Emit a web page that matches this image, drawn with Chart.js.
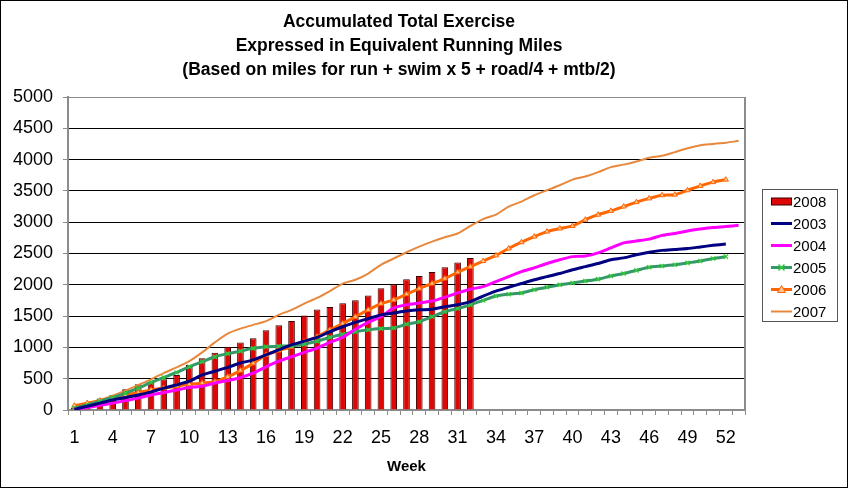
<!DOCTYPE html>
<html>
<head>
<meta charset="utf-8">
<script src="https://cdn.jsdelivr.net/npm/chart.js@4.4.1/dist/chart.umd.min.js"></script>
<style>
  html, body { margin: 0; padding: 0; background: #fff; }
  canvas { display: block; }
</style>
</head>
<body>
<canvas id="exerciseChart" width="848" height="488"></canvas>
<script>
// weeks of the year
const weeks = [1, 2, 3, 4, 5, 6, 7, 8, 9, 10, 11, 12, 13, 14, 15, 16, 17, 18, 19, 20,
  21, 22, 23, 24, 25, 26, 27, 28, 29, 30, 31, 32, 33, 34, 35, 36, 37, 38, 39, 40,
  41, 42, 43, 44, 45, 46, 47, 48, 49, 50, 51, 52, 53];

// accumulated equivalent running miles per year
const miles2008 = [40, 100, 185, 240, 330, 410, 450, 490, 560, 720,
  825, 915, 1010, 1080, 1145, 1275, 1355, 1420, 1510, 1605,
  1645, 1705, 1755, 1830, 1945, 2010, 2090, 2140, 2205, 2280,
  2355, 2430];
const miles2003 = [10, 60, 110, 160, 200, 240, 290, 350, 400, 460,
  560, 620, 680, 750, 800, 880, 960, 1040, 1100, 1160,
  1250, 1330, 1400, 1460, 1520, 1550, 1580, 1600, 1610, 1650,
  1680, 1730, 1820, 1900, 1960, 2020, 2080, 2130, 2180, 2240,
  2290, 2340, 2400, 2430, 2480, 2520, 2550, 2565, 2580, 2605,
  2630, 2650];
const miles2004 = [10, 40, 75, 110, 150, 190, 240, 280, 320, 360,
  380, 430, 470, 520, 590, 690, 780, 850, 920, 990,
  1080, 1160, 1290, 1400, 1490, 1630, 1680, 1710, 1740, 1800,
  1870, 1930, 1970, 2050, 2130, 2210, 2270, 2340, 2400, 2450,
  2460, 2510, 2590, 2670, 2700, 2730, 2790, 2820, 2860, 2890,
  2915, 2930, 2950];
const miles2005 = [30, 80, 140, 200, 270, 350, 440, 520, 600, 690,
  770, 850, 900, 940, 985, 1010, 1020, 1025, 1050, 1100,
  1160, 1210, 1250, 1280, 1300, 1310, 1370, 1410, 1490, 1570,
  1620, 1680, 1750, 1820, 1850, 1870, 1920, 1960, 2000, 2030,
  2060, 2090, 2140, 2180, 2230, 2280, 2300, 2320, 2350, 2380,
  2420, 2450];
const miles2006 = [70, 110, 150, 190, 240, 280, 320, 350, 380, 410,
  430, 450, 530, 630, 745, 880, 950, 1010, 1090, 1170,
  1280, 1380, 1490, 1600, 1700, 1760, 1850, 1940, 2020, 2100,
  2200, 2290, 2380, 2470, 2580, 2680, 2770, 2850, 2900, 2940,
  3040, 3120, 3180, 3250, 3320, 3380, 3430, 3440, 3510, 3580,
  3640, 3680];
const miles2007 = [50, 100, 160, 230, 310, 400, 490, 590, 680, 780,
  920, 1080, 1220, 1300, 1360, 1420, 1520, 1600, 1700, 1790,
  1900, 2020, 2080, 2180, 2320, 2420, 2520, 2610, 2690, 2760,
  2820, 2940, 3050, 3120, 3250, 3330, 3430, 3510, 3590, 3680,
  3730, 3800, 3880, 3920, 3970, 4030, 4060, 4120, 4180, 4230,
  4250, 4270, 4300];

const yTicks = [0, 500, 1000, 1500, 2000, 2500, 3000, 3500, 4000, 4500, 5000];

const titleLines = [
  'Accumulated Total Exercise',
  'Expressed in Equivalent Running Miles',
  '(Based on miles for run + swim x 5 + road/4 + mtb/2)'
];

Chart.defaults.font.family = "'Liberation Sans', Arial, sans-serif";
Chart.defaults.color = '#000';

function lineSet(label, data, color, width, extra) {
  return Object.assign({
    type: 'line',
    label: label,
    data: data,
    borderColor: color,
    backgroundColor: color,
    borderWidth: width,
    pointRadius: 0,
    tension: 0.25,
    fill: false,
    order: 1
  }, extra || {});
}

// title, legend and frame drawn by hand
const decorations = {
  id: 'decorations',
  afterDraw(chart) {
    const ctx = chart.ctx;
    const area = chart.chartArea;
    ctx.save();

    // plot right edge
    ctx.strokeStyle = '#8c8c8c';
    ctx.lineWidth = 2;
    ctx.beginPath();
    ctx.moveTo(area.right, area.top);
    ctx.lineTo(area.right, area.bottom);
    ctx.stroke();

    // title
    ctx.fillStyle = '#000';
    ctx.font = "bold 17.5px 'Liberation Sans', Arial, sans-serif";
    ctx.textAlign = 'center';
    ctx.textBaseline = 'middle';
    titleLines.forEach((t, i) => ctx.fillText(t, 399, 22 + i * 24));

    // legend
    ctx.strokeStyle = '#555';
    ctx.lineWidth = 1;
    ctx.strokeRect(762.5, 189.5, 75, 132);
    ctx.font = "15px 'Liberation Sans', Arial, sans-serif";
    ctx.textAlign = 'left';
    chart.data.datasets.forEach((ds, i) => {
      const y = 201.5 + i * 22;
      if (ds.type === 'bar') {
        ctx.fillStyle = ds.backgroundColor;
        ctx.fillRect(771, y - 3.5, 20, 7);
        ctx.strokeStyle = ds.borderColor;
        ctx.strokeRect(771.5, y - 3.5, 20, 7);
      } else {
        ctx.strokeStyle = ds.borderColor;
        ctx.lineWidth = ds.borderWidth;
        ctx.beginPath();
        ctx.moveTo(771, y);
        ctx.lineTo(792, y);
        ctx.stroke();
        if (ds.pointStyle === 'triangle') {
          ctx.fillStyle = ds.pointBackgroundColor;
          ctx.strokeStyle = ds.pointBorderColor;
          ctx.lineWidth = 1;
          ctx.beginPath();
          ctx.moveTo(781.5, y - 4);
          ctx.lineTo(785.5, y + 3);
          ctx.lineTo(777.5, y + 3);
          ctx.closePath();
          ctx.fill();
          ctx.stroke();
        } else if (ds.pointStyle === 'crossRot') {
          ctx.strokeStyle = ds.pointBorderColor;
          ctx.lineWidth = 1.5;
          ctx.beginPath();
          ctx.moveTo(778.5, y - 3);
          ctx.lineTo(784.5, y + 3);
          ctx.moveTo(784.5, y - 3);
          ctx.lineTo(778.5, y + 3);
          ctx.stroke();
        }
      }
      ctx.fillStyle = '#000';
      ctx.fillText(ds.label, 793, y + 1);
    });

    // outer frame
    ctx.strokeStyle = '#000';
    ctx.lineWidth = 1;
    ctx.strokeRect(0.5, 0.5, chart.width - 1, chart.height - 1);
    ctx.restore();
  }
};

const ctx = document.getElementById('exerciseChart').getContext('2d');
new Chart(ctx, {
  type: 'bar',
  data: {
    labels: weeks,
    datasets: [
      {
        type: 'bar',
        label: '2008',
        data: miles2008,
        backgroundColor: '#DD0806',
        borderColor: '#3a0000',
        borderWidth: 1,
        barPercentage: 0.52,
        categoryPercentage: 1,
        order: 2
      },
      lineSet('2003', miles2003, '#000080', 3),
      lineSet('2004', miles2004, '#FF00FF', 3),
      lineSet('2005', miles2005, '#339966', 3, {
        pointStyle: 'crossRot', pointRadius: 3, pointBorderWidth: 1.2,
        pointBorderColor: '#33CC33', pointBackgroundColor: '#33CC33'
      }),
      lineSet('2006', miles2006, '#FF6600', 3, {
        pointStyle: 'triangle', pointRadius: 3, pointBorderWidth: 1,
        pointBorderColor: '#FF6600', pointBackgroundColor: '#FFC494'
      }),
      lineSet('2007', miles2007, '#E8883C', 2)
    ]
  },
  options: {
    responsive: false,
    animation: false,
    layout: { padding: { top: 97, right: 103, bottom: 0, left: 0 } },
    plugins: {
      legend: { display: false },
      title: { display: false },
      tooltip: { enabled: false }
    },
    scales: {
      x: {
        type: 'category',
        offset: true,
        afterFit: (scale) => { scale.height = 78; },
        grid: {
          offset: true,
          drawOnChartArea: false,
          drawTicks: true,
          tickLength: 5,
          color: '#8c8c8c'
        },
        border: { color: '#8c8c8c', width: 2 },
        ticks: {
          autoSkip: false,
          maxRotation: 0,
          padding: 12,
          font: { size: 18 },
          callback: function (value, index) {
            return index % 3 === 0 ? this.getLabelForValue(value) : '';
          }
        },
        title: {
          display: true,
          text: 'Week',
          font: { size: 15, weight: 'bold' },
          padding: { top: 0, bottom: 12 }
        }
      },
      y: {
        min: 0,
        max: 5000,
        afterFit: (scale) => { scale.width = 68; },
        afterBuildTicks: (scale) => { scale.ticks = yTicks.map(v => ({ value: v })); },
        grid: {
          color: (c) => (c.tick && c.tick.value === 5000 ? '#8c8c8c' : '#000'),
          tickColor: '#8c8c8c',
          lineWidth: 1,
          tickLength: 5
        },
        border: { color: '#8c8c8c', width: 2 },
        ticks: {
          padding: 10,
          font: { size: 18 },
          callback: (value) => String(value)
        }
      }
    }
  },
  plugins: [decorations]
});
</script>
</body>
</html>
